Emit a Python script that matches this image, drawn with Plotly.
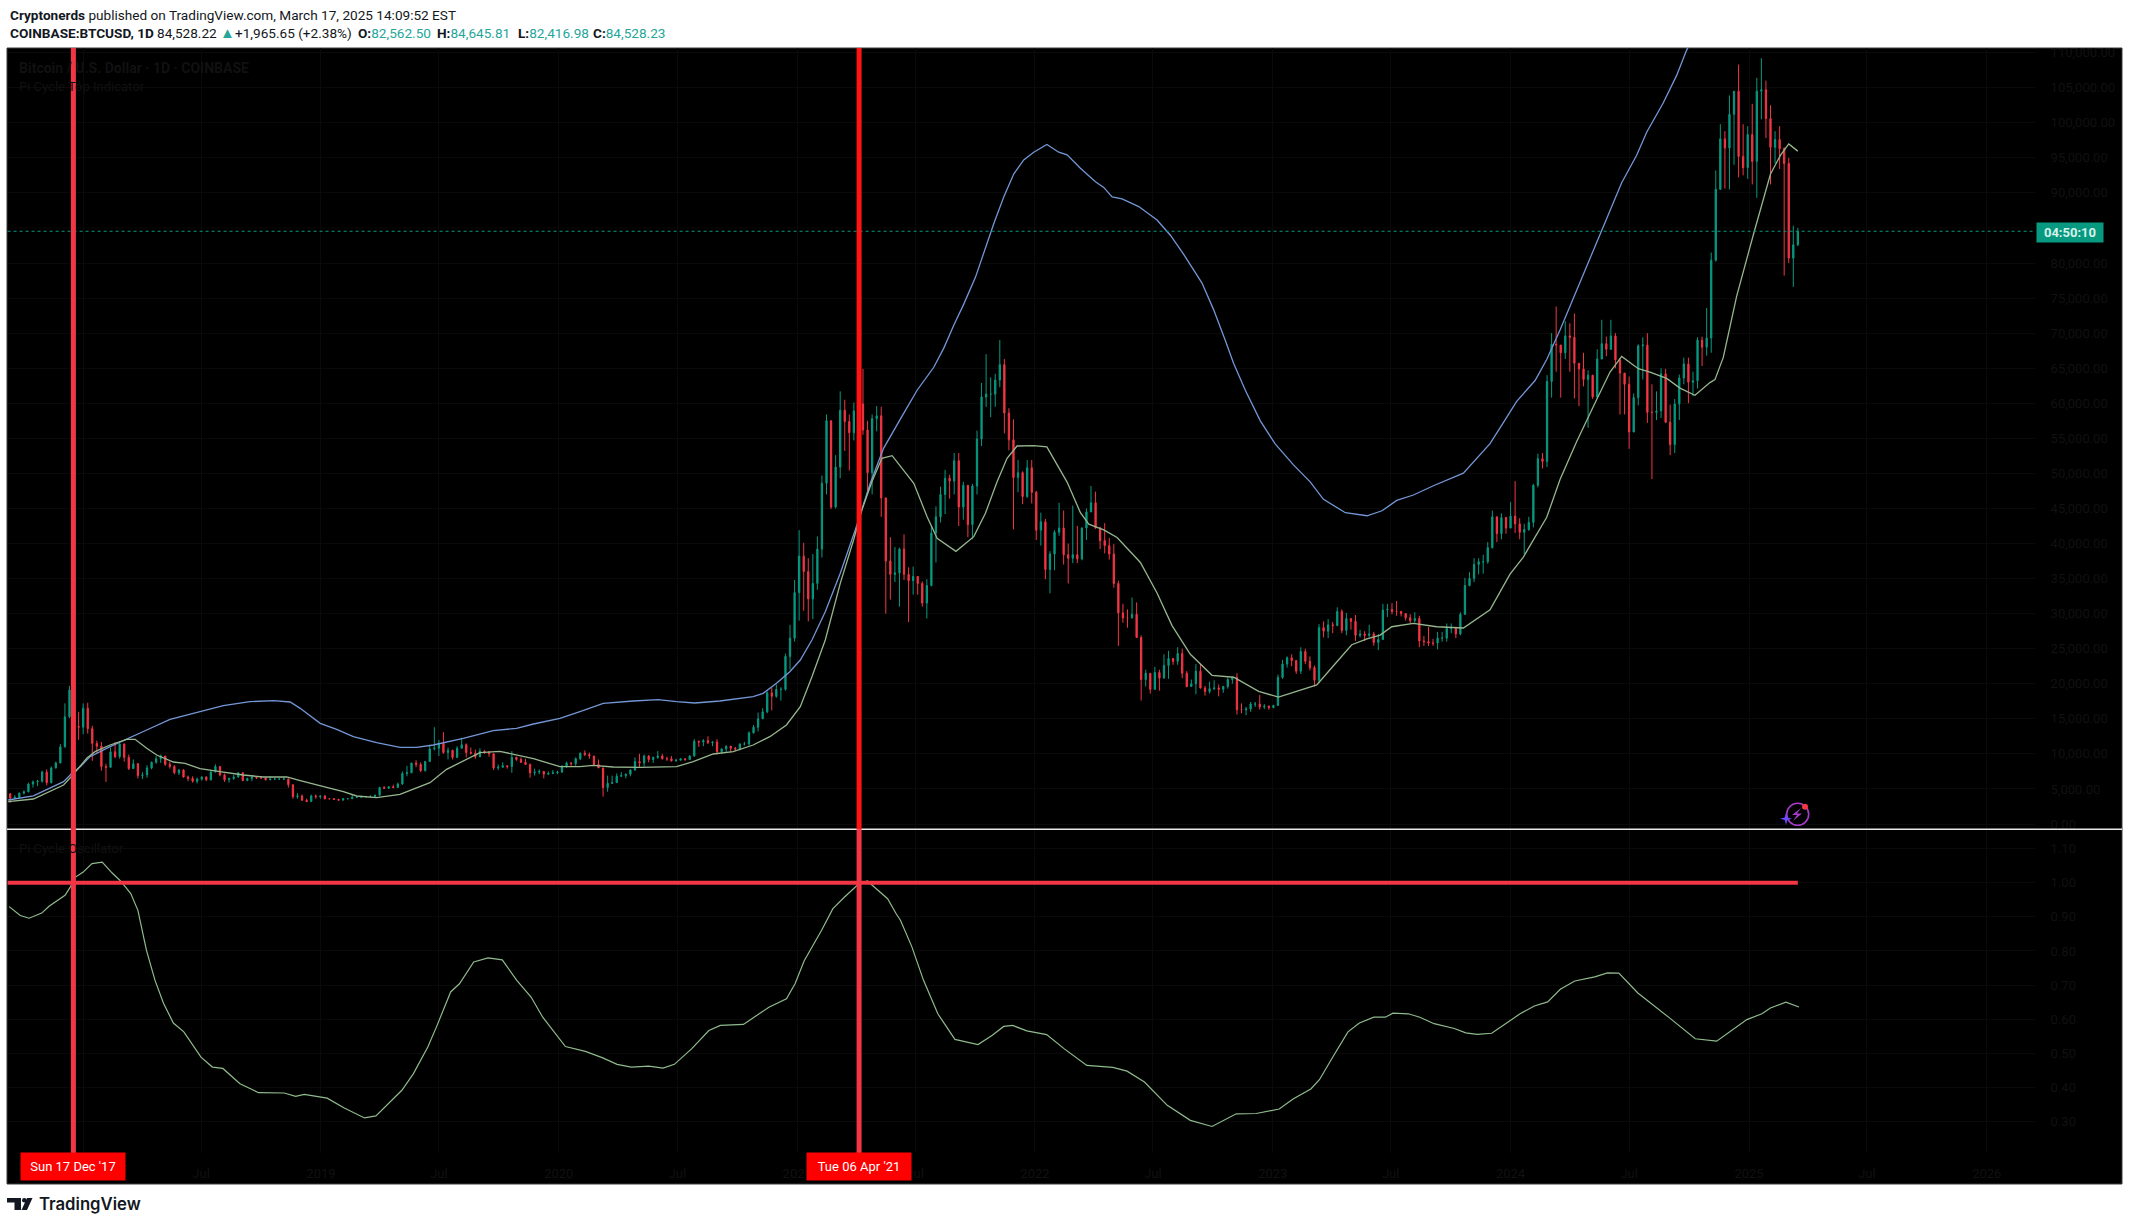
import pandas as pd
import plotly.graph_objects as go

W, H = 2129, 1225

# weekly candles in thousands of USD, one line per year, first week is 2017-09-04
first_week = "2017-09-04"
candle_open = [
    4.5, 4.3, 3.7, 3.8, 4.4, 4.6, 5.7, 6.0, 6.1, 7.4, 5.9, 8.0, 8.7, 11.0, 15.3, 19.1, 13.9,
    13.8, 16.5, 13.6, 11.5, 11.1, 8.2, 8.1, 10.3, 9.6, 11.4, 9.5, 7.9, 8.6, 6.9, 7.0, 8.0, 8.8, 9.3, 9.7, 8.5, 8.2, 7.3, 7.7, 6.7, 6.5, 6.1, 6.4, 6.7, 6.3, 7.4, 8.2, 7.0, 6.3, 6.5, 6.7, 7.3, 6.2, 6.5, 6.7, 6.6, 6.6, 6.3, 6.4, 6.4, 6.4, 6.4, 5.6, 3.9, 4.0, 3.4, 3.2, 4.0, 3.9,
    4.0, 3.6, 3.6, 3.5, 3.4, 3.6, 3.6, 3.8, 3.8, 3.9, 3.9, 3.9, 4.1, 5.2, 5.1, 5.3, 5.2, 5.7, 7.2, 7.3, 8.7, 8.5, 7.6, 8.9, 10.7, 10.8, 11.5, 10.2, 10.5, 9.5, 10.8, 11.3, 10.2, 10.1, 9.6, 10.4, 10.3, 10.0, 8.0, 8.1, 8.3, 8.2, 9.5, 9.2, 8.8, 8.5, 7.3, 7.4, 7.5, 7.1, 7.2, 7.3,
    7.4, 8.2, 8.7, 8.6, 9.3, 10.1, 9.9, 9.7, 8.5, 8.0, 5.2, 5.8, 5.9, 6.8, 6.9, 7.1, 7.7, 8.9, 8.7, 9.7, 9.2, 9.5, 9.7, 9.3, 9.3, 9.0, 9.1, 9.3, 9.2, 9.7, 11.8, 11.7, 11.9, 11.6, 11.7, 10.3, 10.7, 11.1, 10.8, 10.7, 11.4, 11.4, 13.0, 13.8, 15.0, 16.0, 18.7, 18.2, 19.2, 19.2, 23.9, 26.5,
    33.0, 38.2, 36.0, 32.1, 34.3, 39.2, 48.6, 57.5, 45.2, 50.9, 59.0, 57.4, 55.8, 58.9, 59.9, 56.2, 50.1, 57.8, 58.2, 46.5, 37.5, 35.6, 35.8, 39.2, 35.6, 34.7, 35.3, 34.3, 31.5, 34.0, 41.5, 43.8, 47.0, 49.3, 48.9, 51.8, 45.2, 48.3, 42.7, 48.2, 54.9, 60.9, 61.3, 61.3, 63.3, 65.5, 58.6, 54.8, 49.4, 50.1, 46.7, 50.8,
    47.3, 41.9, 43.1, 36.3, 38.5, 41.6, 42.2, 38.4, 37.9, 38.4, 37.8, 42.2, 44.5, 45.8, 42.2, 40.4, 39.7, 38.5, 34.3, 30.1, 29.4, 29.4, 29.9, 26.6, 20.6, 21.5, 19.2, 21.6, 20.8, 22.6, 23.6, 23.2, 24.3, 21.5, 19.6, 20.0, 21.8, 19.4, 18.9, 19.3, 19.4, 19.2, 19.6, 20.6, 20.9, 16.3, 16.3, 16.4, 17.1, 17.1, 16.7, 16.8,
    16.6, 16.9, 20.9, 22.8, 23.7, 23.3, 21.8, 24.6, 23.2, 22.3, 20.5, 28.0, 27.5, 28.4, 28.3, 30.3, 27.6, 29.3, 28.9, 26.9, 27.1, 26.9, 27.1, 25.9, 26.3, 30.5, 30.6, 30.3, 30.3, 30.0, 29.4, 29.0, 29.3, 26.1, 26.0, 25.8, 25.8, 26.5, 26.5, 27.9, 27.9, 27.1, 29.9, 34.0, 35.0, 37.0, 37.4, 37.4, 39.4, 43.8, 41.4, 43.7,
    42.2, 43.9, 42.8, 41.6, 42.0, 43.0, 48.3, 52.1, 51.7, 63.1, 68.4, 68.3, 67.2, 69.6, 69.4, 65.7, 64.9, 63.4, 64.0, 60.9, 66.3, 68.5, 67.7, 69.6, 66.2, 64.3, 62.7, 55.9, 60.8, 68.2, 68.3, 58.7, 58.7, 58.9, 64.2, 57.3, 54.1, 59.9, 63.6, 65.6, 63.0, 63.2, 69.0, 68.0, 69.3, 80.4, 90.5, 97.7, 96.4, 101.2, 104.5, 95.2, 93.6,
    98.3, 94.5, 104.5, 104.7, 100.6, 96.5, 97.6, 96.3, 94.2, 80.7, 82.6,
]
candle_high = [
    4.9, 4.4, 4.1, 4.5, 4.8, 5.9, 6.2, 6.3, 7.6, 7.8, 8.2, 8.9, 11.4, 17.2, 19.7, 19.0, 16.0,
    17.2, 17.3, 14.0, 11.9, 11.7, 8.6, 10.9, 11.7, 11.7, 11.5, 9.9, 9.2, 8.7, 7.4, 8.4, 8.9, 9.7, 9.9, 9.4, 8.9, 8.4, 7.8, 7.8, 6.9, 6.8, 6.6, 6.8, 6.8, 7.7, 8.5, 8.2, 7.2, 6.6, 7.0, 7.4, 7.4, 6.6, 6.8, 6.8, 6.7, 6.7, 6.8, 6.6, 6.5, 6.6, 6.5, 5.6, 4.4, 4.2, 3.6, 4.2, 4.2, 4.0,
    4.1, 3.7, 3.7, 3.6, 3.7, 3.7, 4.2, 3.9, 4.0, 4.0, 4.1, 4.2, 5.3, 5.4, 5.4, 5.6, 5.9, 7.5, 8.3, 8.7, 9.1, 8.8, 9.0, 11.2, 13.8, 12.0, 13.1, 10.9, 10.6, 11.1, 12.3, 11.5, 10.9, 10.6, 10.8, 10.5, 10.4, 10.1, 8.5, 8.8, 8.4, 10.4, 9.6, 9.5, 9.3, 8.6, 7.9, 7.8, 7.5, 7.5, 7.7, 7.6,
    8.4, 8.9, 8.8, 9.5, 10.2, 10.5, 10.2, 9.7, 9.2, 8.0, 6.9, 6.9, 7.2, 7.4, 7.2, 7.8, 9.5, 10.0, 9.9, 9.8, 9.6, 10.4, 10.0, 9.6, 9.7, 9.3, 9.4, 9.3, 9.8, 12.1, 11.9, 12.1, 12.5, 11.8, 12.1, 10.8, 11.2, 11.0, 11.0, 11.5, 11.7, 13.2, 14.1, 15.9, 16.5, 18.9, 19.4, 19.9, 19.5, 24.3, 28.4, 34.8,
    41.9, 40.1, 37.9, 38.5, 41.0, 49.7, 58.4, 52.0, 52.6, 61.7, 60.5, 58.4, 60.1, 61.2, 64.9, 57.5, 58.4, 59.6, 59.5, 45.8, 40.9, 39.5, 39.4, 41.3, 36.6, 36.7, 35.1, 34.6, 34.9, 42.6, 45.3, 48.1, 50.5, 49.8, 52.9, 52.9, 48.8, 44.9, 48.5, 56.1, 62.9, 67.0, 63.7, 64.2, 69.0, 66.3, 59.3, 57.7, 51.9, 50.3, 51.9, 51.9,
    47.5, 44.4, 43.5, 38.9, 41.9, 45.8, 44.7, 40.0, 45.4, 42.5, 42.3, 45.0, 48.2, 47.4, 42.4, 42.9, 40.8, 39.9, 34.7, 31.4, 30.6, 32.3, 31.6, 26.9, 22.0, 21.5, 22.4, 22.0, 24.2, 24.7, 23.5, 25.2, 25.0, 21.8, 20.6, 22.8, 22.8, 19.7, 20.3, 20.5, 19.9, 19.7, 20.9, 21.0, 21.5, 17.2, 16.7, 17.4, 17.4, 18.4, 17.1, 16.9,
    17.0, 21.3, 23.4, 23.9, 24.2, 23.4, 25.2, 25.0, 23.9, 22.6, 28.5, 28.9, 29.2, 28.8, 30.9, 30.6, 30.1, 29.3, 29.8, 27.7, 27.5, 28.4, 27.4, 27.1, 31.4, 31.4, 31.5, 31.8, 30.4, 29.9, 29.9, 30.2, 29.7, 26.8, 28.1, 26.4, 27.4, 27.4, 28.6, 28.6, 28.0, 30.2, 35.1, 35.9, 37.9, 37.9, 38.4, 40.2, 44.7, 43.4, 44.3, 43.8,
    45.9, 48.9, 43.6, 42.8, 43.8, 48.5, 52.8, 52.9, 64.0, 70.0, 73.8, 68.2, 71.7, 71.4, 72.8, 65.3, 67.2, 64.7, 63.4, 67.7, 71.9, 69.5, 71.9, 70.0, 66.4, 63.4, 63.8, 61.4, 68.4, 69.4, 70.0, 62.7, 61.7, 65.0, 64.9, 59.8, 60.6, 64.1, 66.5, 66.5, 64.5, 69.4, 69.5, 73.6, 81.5, 93.2, 99.8, 98.8, 103.9, 104.5, 108.3, 99.8, 99.5,
    102.7, 106.4, 109.2, 106.0, 102.5, 98.8, 99.5, 96.5, 95.0, 85.3, 85.0,
]
candle_low = [
    4.2, 3.0, 3.6, 3.7, 4.2, 4.5, 5.2, 5.4, 5.9, 5.5, 5.8, 7.9, 8.7, 10.9, 15.1, 12.5, 12.0,
    12.8, 12.9, 9.0, 10.0, 7.6, 6.0, 8.0, 9.4, 9.3, 8.9, 7.7, 8.3, 6.5, 6.4, 6.6, 7.8, 8.6, 8.7, 8.3, 7.9, 7.1, 7.0, 6.6, 6.1, 5.9, 5.8, 6.2, 6.1, 6.2, 7.4, 6.8, 6.0, 5.9, 6.3, 6.6, 6.1, 6.1, 6.1, 6.4, 6.4, 6.2, 6.3, 6.3, 6.3, 6.3, 5.2, 3.6, 3.6, 3.3, 3.1, 3.2, 3.6, 3.6,
    3.5, 3.5, 3.5, 3.3, 3.4, 3.6, 3.6, 3.7, 3.7, 3.8, 3.8, 3.9, 4.1, 5.0, 5.0, 5.1, 5.2, 5.6, 6.8, 7.3, 8.1, 7.4, 7.5, 8.9, 10.5, 9.7, 10.0, 9.2, 9.2, 9.4, 10.8, 9.5, 9.9, 9.3, 9.5, 10.0, 9.6, 7.7, 7.7, 8.0, 7.9, 7.3, 9.0, 8.7, 8.4, 6.6, 6.9, 7.1, 6.5, 7.0, 7.1, 7.1,
    7.3, 8.0, 8.3, 8.3, 9.1, 9.7, 9.3, 8.4, 8.0, 3.9, 4.6, 5.7, 5.9, 6.7, 6.5, 6.8, 7.6, 8.1, 8.2, 8.8, 8.7, 9.3, 9.2, 9.0, 8.9, 8.9, 9.1, 9.0, 9.2, 9.6, 11.0, 11.1, 11.4, 11.1, 9.9, 10.0, 10.2, 10.2, 10.4, 10.5, 11.2, 11.2, 12.9, 13.2, 15.0, 15.8, 16.2, 18.0, 17.6, 19.0, 22.0, 26.0,
    29.0, 30.4, 28.9, 29.2, 33.4, 38.0, 47.0, 44.9, 45.0, 49.3, 53.2, 50.4, 54.7, 55.5, 55.5, 47.5, 47.0, 56.0, 43.8, 30.0, 32.0, 34.5, 31.0, 34.8, 28.8, 32.7, 32.7, 31.0, 29.3, 33.9, 37.3, 43.0, 44.2, 46.4, 47.0, 42.5, 43.4, 40.9, 40.6, 47.0, 53.9, 59.5, 58.0, 59.5, 62.3, 55.7, 53.3, 42.0, 47.3, 45.6, 46.5, 45.7,
    40.5, 39.7, 34.9, 32.9, 36.2, 41.1, 37.0, 34.3, 37.2, 37.2, 37.6, 40.5, 45.2, 42.1, 39.2, 38.6, 37.7, 33.7, 25.4, 28.7, 28.0, 29.3, 26.6, 17.6, 19.6, 18.6, 19.3, 19.0, 20.8, 20.7, 22.7, 22.7, 20.8, 19.5, 19.6, 18.5, 19.3, 18.3, 18.6, 19.1, 18.2, 18.7, 19.3, 20.0, 15.6, 15.8, 15.5, 16.0, 16.7, 16.3, 16.4, 16.3,
    16.5, 16.9, 20.7, 22.3, 22.5, 21.4, 21.4, 22.8, 21.9, 19.6, 20.1, 26.6, 26.5, 27.2, 28.2, 27.2, 26.9, 27.7, 26.1, 26.6, 26.1, 26.6, 25.4, 24.8, 26.3, 29.5, 29.9, 29.7, 29.6, 29.0, 28.6, 28.7, 25.2, 25.4, 25.4, 25.4, 24.9, 26.0, 26.0, 27.2, 26.5, 26.9, 29.8, 33.9, 34.5, 35.6, 35.7, 37.1, 39.3, 40.2, 40.6, 41.4,
    42.6, 41.5, 40.6, 38.5, 41.8, 42.3, 48.0, 50.7, 50.9, 60.8, 64.5, 60.8, 66.3, 64.5, 60.7, 59.6, 62.4, 56.5, 60.6, 60.8, 66.4, 66.7, 67.6, 65.0, 58.4, 58.4, 53.5, 56.5, 59.7, 63.4, 57.2, 49.2, 57.6, 57.9, 57.2, 52.6, 52.9, 57.6, 62.7, 60.0, 61.0, 62.1, 65.3, 66.8, 67.2, 80.2, 90.8, 90.6, 90.5, 94.0, 92.2, 92.5, 92.0,
    91.2, 89.3, 100.5, 97.8, 91.2, 94.2, 93.4, 78.2, 80.0, 76.6, 82.4,
]
candle_close = [
    4.3, 3.7, 3.8, 4.4, 4.6, 5.7, 6.0, 6.1, 7.4, 5.9, 8.0, 8.7, 11.0, 15.3, 19.1, 13.9, 13.8,
    16.5, 13.6, 11.5, 11.1, 8.2, 8.1, 10.3, 9.6, 11.4, 9.5, 7.9, 8.6, 6.9, 7.0, 8.0, 8.8, 9.3, 9.7, 8.5, 8.2, 7.3, 7.7, 6.7, 6.5, 6.1, 6.4, 6.7, 6.3, 7.4, 8.2, 7.0, 6.3, 6.5, 6.7, 7.3, 6.2, 6.5, 6.7, 6.6, 6.6, 6.3, 6.4, 6.4, 6.4, 6.4, 5.6, 3.9, 4.0, 3.4, 3.2, 4.0, 3.9, 4.0,
    3.6, 3.6, 3.5, 3.4, 3.6, 3.6, 3.8, 3.8, 3.9, 3.9, 3.9, 4.1, 5.2, 5.1, 5.3, 5.2, 5.7, 7.2, 7.3, 8.7, 8.5, 7.6, 8.9, 10.7, 10.8, 11.5, 10.2, 10.5, 9.5, 10.8, 11.3, 10.2, 10.1, 9.6, 10.4, 10.3, 10.0, 8.0, 8.1, 8.3, 8.2, 9.5, 9.2, 8.8, 8.5, 7.3, 7.4, 7.5, 7.1, 7.2, 7.3, 7.4,
    8.2, 8.7, 8.6, 9.3, 10.1, 9.9, 9.7, 8.5, 8.0, 5.2, 5.8, 5.9, 6.8, 6.9, 7.1, 7.7, 8.9, 8.7, 9.7, 9.2, 9.5, 9.7, 9.3, 9.3, 9.0, 9.1, 9.3, 9.2, 9.7, 11.8, 11.7, 11.9, 11.6, 11.7, 10.3, 10.7, 11.1, 10.8, 10.7, 11.4, 11.4, 13.0, 13.8, 15.0, 16.0, 18.7, 18.2, 19.2, 19.2, 23.9, 26.5, 33.0,
    38.2, 36.0, 32.1, 34.3, 39.2, 48.6, 57.5, 45.2, 50.9, 59.0, 57.4, 55.8, 58.9, 59.9, 56.2, 50.1, 57.8, 58.2, 46.5, 37.5, 35.6, 35.8, 39.2, 35.6, 34.7, 35.3, 34.3, 31.5, 34.0, 41.5, 43.8, 47.0, 49.3, 48.9, 51.8, 45.2, 48.3, 42.7, 48.2, 54.9, 60.9, 61.3, 61.3, 63.3, 65.5, 58.6, 54.8, 49.4, 50.1, 46.7, 50.8, 47.3,
    41.9, 43.1, 36.3, 38.5, 41.6, 42.2, 38.4, 37.9, 38.4, 37.8, 42.2, 44.5, 45.8, 42.2, 40.4, 39.7, 38.5, 34.3, 30.1, 29.4, 29.4, 29.9, 26.6, 20.6, 21.5, 19.2, 21.6, 20.8, 22.6, 23.6, 23.2, 24.3, 21.5, 19.6, 20.0, 21.8, 19.4, 18.9, 19.3, 19.4, 19.2, 19.6, 20.6, 20.9, 16.3, 16.3, 16.4, 17.1, 17.1, 16.7, 16.8, 16.6,
    16.9, 20.9, 22.8, 23.7, 23.3, 21.8, 24.6, 23.2, 22.3, 20.5, 28.0, 27.5, 28.4, 28.3, 30.3, 27.6, 29.3, 28.9, 26.9, 27.1, 26.9, 27.1, 25.9, 26.3, 30.5, 30.6, 30.3, 30.3, 30.0, 29.4, 29.0, 29.3, 26.1, 26.0, 25.8, 25.8, 26.5, 26.5, 27.9, 27.9, 27.1, 29.9, 34.0, 35.0, 37.0, 37.4, 37.4, 39.4, 43.8, 41.4, 43.7, 42.2,
    43.9, 42.8, 41.6, 42.0, 43.0, 48.3, 52.1, 51.7, 63.1, 68.4, 68.3, 67.2, 69.6, 69.4, 65.7, 64.9, 63.4, 64.0, 60.9, 66.3, 68.5, 67.7, 69.6, 66.2, 64.3, 62.7, 55.9, 60.8, 68.2, 68.3, 58.7, 58.7, 58.9, 64.2, 57.3, 54.1, 59.9, 63.6, 65.6, 63.0, 63.2, 69.0, 68.0, 69.3, 80.4, 90.5, 97.7, 96.4, 101.2, 104.5, 95.2, 93.6, 98.3,
    94.5, 104.5, 104.7, 100.6, 96.5, 97.6, 96.3, 94.2, 80.7, 82.6, 84.5,
]

# pi cycle long moving average, decimal years and USD
blue_years = [
    2017.684, 2017.79, 2017.917, 2017.952, 2017.987, 2018.029, 2018.113, 2018.183, 2018.267, 2018.365, 2018.491, 2018.589,
    2018.701, 2018.8, 2018.87, 2018.912, 2018.996, 2019.066, 2019.136, 2019.234, 2019.332, 2019.402, 2019.472, 2019.598,
    2019.724, 2019.822, 2019.893, 2020.005, 2020.089, 2020.187, 2020.313, 2020.418, 2020.495, 2020.572, 2020.677, 2020.817,
    2020.859, 2020.915, 2020.971, 2021.013, 2021.062, 2021.118, 2021.181, 2021.244, 2021.307, 2021.363, 2021.434, 2021.504,
    2021.574, 2021.616, 2021.658, 2021.7, 2021.749, 2021.784, 2021.826, 2021.868, 2021.91, 2021.952, 2021.994, 2022.05,
    2022.1, 2022.135, 2022.191, 2022.254, 2022.289, 2022.324, 2022.366, 2022.436, 2022.513, 2022.569, 2022.625, 2022.702,
    2022.751, 2022.8, 2022.835, 2022.884, 2022.947, 2023.01, 2023.087, 2023.158, 2023.213, 2023.305, 2023.396, 2023.459,
    2023.521, 2023.591, 2023.675, 2023.801, 2023.857, 2023.913, 2023.969, 2024.025, 2024.103, 2024.152, 2024.208, 2024.278,
    2024.362, 2024.418, 2024.467, 2024.53, 2024.572, 2024.642, 2024.698, 2024.74, 2024.78,
]
blue_values = [
    3423, 4000, 6035, 7226, 8176, 9602, 11028, 12074, 13405, 14926, 16019, 16875,
    17445, 17587, 17398, 16494, 14355, 13500, 12454, 11599, 10933, 10933, 11266, 12217,
    13310, 13643, 14260, 15069, 16019, 17207, 17540, 17730, 17445, 17255, 17540, 18158,
    18633, 20059, 21723, 23386, 26241, 30280, 35747, 41926, 48580, 53570, 57763, 61856,
    65130, 67860, 71134, 74135, 77954, 81496, 85590, 89414, 92687, 94707, 95799, 96890,
    95799, 95417, 93507, 91597, 90779, 89414, 89142, 88050, 86140, 83957, 81229, 77136,
    73316, 68950, 65676, 61856, 57490, 54216, 51212, 48760, 46303, 44394, 43957, 44666,
    46137, 46917, 48237, 50038, 52139, 54239, 57240, 60241, 63242, 66243, 70445, 76146,
    82749, 87550, 91452, 95357, 98654, 102856, 106757, 110358, 113000,
]

# pi cycle short moving average
green_years = [
    2017.684, 2017.79, 2017.917, 2017.952, 2018.015, 2018.05, 2018.113, 2018.183, 2018.218, 2018.267, 2018.309, 2018.379,
    2018.428, 2018.491, 2018.575, 2018.673, 2018.758, 2018.856, 2018.912, 2018.996, 2019.094, 2019.15, 2019.234, 2019.332,
    2019.458, 2019.528, 2019.612, 2019.668, 2019.752, 2019.836, 2019.893, 2020.005, 2020.089, 2020.145, 2020.229, 2020.341,
    2020.495, 2020.565, 2020.649, 2020.733, 2020.817, 2020.887, 2020.957, 2021.013, 2021.062, 2021.118, 2021.181, 2021.237,
    2021.272, 2021.314, 2021.356, 2021.399, 2021.447, 2021.49, 2021.546, 2021.588, 2021.667, 2021.742, 2021.791, 2021.84,
    2021.882, 2021.924, 2021.994, 2022.05, 2022.135, 2022.191, 2022.226, 2022.289, 2022.345, 2022.443, 2022.513, 2022.576,
    2022.653, 2022.744, 2022.835, 2022.94, 2023.024, 2023.115, 2023.185, 2023.255, 2023.332, 2023.396, 2023.451, 2023.5,
    2023.591, 2023.689, 2023.801, 2023.913, 2023.997, 2024.053, 2024.152, 2024.208, 2024.278, 2024.362, 2024.418, 2024.467,
    2024.537, 2024.586, 2024.656, 2024.712, 2024.775, 2024.838, 2024.859, 2024.894, 2024.95, 2025.02, 2025.09, 2025.132,
    2025.167, 2025.205,
]
green_values = [
    3186, 3566, 5562, 6846, 9365, 10315, 11266, 12074, 12074, 10791, 9840, 8842,
    8652, 7891, 7464, 6988, 6703, 6703, 6180, 5467, 4612, 3994, 3756, 4232,
    5895, 7797, 9222, 10173, 10363, 9745, 9318, 8177, 8177, 8367, 8129, 8082,
    8177, 8890, 9983, 10316, 11266, 12454, 14118, 16732, 21010, 26241, 34321, 40500,
    44778, 48818, 52145, 52526, 50481, 48580, 43827, 40738, 38883, 40975, 44302, 48818,
    52145, 53904, 53951, 53780, 48762, 44394, 42757, 41938, 40847, 37299, 32934, 28296,
    24203, 21202, 20929, 18910, 18091, 19019, 19836, 22567, 25565, 26385, 26930, 28130,
    28611, 28130, 27951, 30531, 35633, 38034, 43736, 49138, 54539, 60541, 64443, 66673,
    64922, 64443, 63542, 62162, 61142, 62942, 63362, 66543, 75246, 84249, 92652, 95353,
    96973, 95953,
]

# oscillator pane
osc_years = [
    2017.688, 2017.735, 2017.772, 2017.825, 2017.856, 2017.923, 2017.945, 2017.964, 2018.0, 2018.037, 2018.08, 2018.121,
    2018.157, 2018.2, 2018.23, 2018.266, 2018.302, 2018.338, 2018.379, 2018.423, 2018.495, 2018.543, 2018.587, 2018.659,
    2018.737, 2018.845, 2018.893, 2018.929, 2019.026, 2019.098, 2019.183, 2019.231, 2019.34, 2019.388, 2019.449, 2019.485,
    2019.545, 2019.582, 2019.642, 2019.702, 2019.762, 2019.823, 2019.883, 2019.932, 2020.028, 2020.112, 2020.185, 2020.245,
    2020.305, 2020.378, 2020.438, 2020.486, 2020.559, 2020.631, 2020.679, 2020.776, 2020.885, 2020.957, 2020.993, 2021.03,
    2021.102, 2021.15, 2021.199, 2021.259, 2021.295, 2021.332, 2021.38, 2021.416, 2021.434, 2021.482, 2021.531, 2021.591,
    2021.663, 2021.76, 2021.82, 2021.868, 2021.905, 2021.965, 2022.049, 2022.122, 2022.218, 2022.327, 2022.387, 2022.46,
    2022.556, 2022.653, 2022.744, 2022.846, 2022.93, 2023.027, 2023.087, 2023.16, 2023.196, 2023.256, 2023.316, 2023.364,
    2023.425, 2023.473, 2023.505, 2023.57, 2023.618, 2023.678, 2023.763, 2023.811, 2023.859, 2023.92, 2023.98, 2024.04,
    2024.1, 2024.156, 2024.209, 2024.27, 2024.354, 2024.407, 2024.455, 2024.535, 2024.668, 2024.776, 2024.866, 2024.993,
    2025.054, 2025.09, 2025.155, 2025.21,
]
osc_values = [
    0.930, 0.904, 0.896, 0.911, 0.931, 0.963, 0.987, 1.015, 1.031, 1.056, 1.060, 1.029,
    1.005, 0.968, 0.919, 0.802, 0.714, 0.646, 0.589, 0.563, 0.489, 0.460, 0.456, 0.411,
    0.385, 0.384, 0.374, 0.380, 0.369, 0.340, 0.311, 0.317, 0.392, 0.440, 0.519, 0.577,
    0.680, 0.704, 0.768, 0.780, 0.774, 0.714, 0.665, 0.606, 0.520, 0.506, 0.487, 0.468,
    0.460, 0.463, 0.457, 0.468, 0.514, 0.567, 0.582, 0.585, 0.636, 0.660, 0.704, 0.772,
    0.860, 0.924, 0.958, 0.997, 1.005, 0.982, 0.953, 0.909, 0.890, 0.812, 0.714, 0.616,
    0.541, 0.526, 0.553, 0.579, 0.582, 0.566, 0.555, 0.514, 0.465, 0.459, 0.448, 0.416,
    0.348, 0.304, 0.286, 0.323, 0.324, 0.337, 0.367, 0.396, 0.423, 0.494, 0.563, 0.589,
    0.606, 0.606, 0.618, 0.616, 0.606, 0.587, 0.573, 0.560, 0.556, 0.559, 0.587, 0.616,
    0.639, 0.651, 0.688, 0.712, 0.724, 0.736, 0.735, 0.677, 0.604, 0.543, 0.536, 0.599,
    0.616, 0.633, 0.650, 0.636,
]

# 2018 and 85,000 sit under the red date box and the countdown box in the picture
x_tick_dates = ["2018-01-01", "2018-07-01", "2019-01-01", "2019-07-01", "2020-01-01", "2020-07-01", "2021-01-01", "2021-07-01",
                "2022-01-01", "2022-07-01", "2023-01-01", "2023-07-01", "2024-01-01", "2024-07-01", "2025-01-01", "2025-07-01", "2026-01-01"]
x_tick_labels = ["", "Jul", "2019", "Jul", "2020", "Jul", "2021", "Jul", "2022", "Jul", "2023", "Jul", "2024", "Jul", "2025", "Jul", "2026"]
price_ticks = [0, 5000, 10000, 15000, 20000, 25000, 30000, 35000, 40000, 45000, 50000, 55000, 60000, 65000, 70000, 75000, 80000,
               90000, 95000, 100000, 105000, 110000]
price_grid = [85000]

last_price = 84528
signal_dates = ["2017-12-17", "2021-04-06"]
signal_labels = ["Sun 17 Dec '17", "Tue 06 Apr '21"]
osc_level = 1.0
osc_level_end = "2025-03-17"

UP = "#089981"
DOWN = "#f23645"
FAINT = "#111111"
GRID = "#0a0a0a"
TEXT = "#131722"
TEAL = "#26a69a"


def to_dates(years):
    return [pd.Timestamp(int(y), 1, 1) + pd.Timedelta(days=(y % 1) * 365.25) for y in years]


def px(x):
    return x / W


def py(y):
    return 1 - y / H


def poly(points, color):
    path = "M " + " L ".join(f"{px(x):.5f},{py(y):.5f}" for x, y in points) + " Z"
    return dict(type="path", xref="paper", yref="paper", path=path, fillcolor=color, line_width=0)


def paper_circle(cx, cy, r, fill=None, line=None, lw=0):
    return dict(type="circle", xref="paper", yref="paper", x0=px(cx - r), x1=px(cx + r), y0=py(cy + r), y1=py(cy - r),
                fillcolor=fill or "rgba(0,0,0,0)", line=dict(color=line or "rgba(0,0,0,0)", width=lw))


def paper_note(x, y, text, size, color=TEXT, family="Roboto", **kw):
    return dict(xref="paper", yref="paper", x=px(x), y=py(y), text=text, showarrow=False, xanchor=kw.pop("xanchor", "left"),
                yanchor="middle", font=dict(family=family, size=size, color=color), **kw)


weeks = pd.date_range(first_week, periods=len(candle_close), freq="7D")
assert len(candle_open) == len(candle_high) == len(candle_low) == len(candle_close)

fig = go.Figure()
fig.add_trace(go.Scatter(x=to_dates(blue_years), y=blue_values, mode="lines", line=dict(color="#7397d6", width=1.3), name="Long MA"))
fig.add_trace(go.Candlestick(
    x=weeks,
    open=[v * 1000 for v in candle_open],
    high=[v * 1000 for v in candle_high],
    low=[v * 1000 for v in candle_low],
    close=[v * 1000 for v in candle_close],
    increasing=dict(line=dict(color=UP, width=1), fillcolor=UP),
    decreasing=dict(line=dict(color=DOWN, width=1), fillcolor=DOWN),
    whiskerwidth=0,
    name="BTCUSD",
))
fig.add_trace(go.Scatter(x=to_dates(green_years), y=green_values, mode="lines", line=dict(color="#96b78e", width=1.3), name="Short MA"))
fig.add_trace(go.Scatter(x=to_dates(osc_years), y=osc_values, mode="lines", line=dict(color="#8fbb8c", width=1.2), name="Oscillator", xaxis="x2", yaxis="y2"))

plot_left, plot_right = 7.6, 2035
top_axis = dict(family="Roboto", size=13, color=FAINT)

shapes = [
    dict(type="rect", xref="paper", yref="paper", x0=px(7), x1=px(2122), y0=py(1184), y1=py(48), fillcolor="#000000",
         line=dict(color="#3c3c3c", width=1), layer="below"),
    dict(type="line", xref="paper", yref="paper", x0=px(7), x1=px(2122), y0=py(829.3), y1=py(829.3), line=dict(color="#e8e8e8", width=1.5)),
    dict(type="line", xref="paper", yref="y", x0=px(plot_left), x1=px(plot_right), y0=price_grid[0], y1=price_grid[0], line=dict(color=GRID, width=1), layer="below"),
    dict(type="line", xref="paper", yref="y", x0=px(plot_left), x1=px(plot_right), y0=last_price, y1=last_price, line=dict(color=UP, width=1, dash="dot")),
    dict(type="line", xref="x2", yref="y2", x0=signal_dates[0], x1=osc_level_end, y0=osc_level, y1=osc_level, line=dict(color=DOWN, width=4)),
    dict(type="line", xref="x", yref="paper", x0=signal_dates[0], x1=signal_dates[0], y0=py(1153), y1=py(48), line=dict(color=DOWN, width=5)),
    dict(type="line", xref="x", yref="paper", x0=signal_dates[1], x1=signal_dates[1], y0=py(1153), y1=py(829.3), line=dict(color=DOWN, width=5)),
    dict(type="line", xref="x", yref="paper", x0=signal_dates[1], x1=signal_dates[1], y0=py(829.3), y1=py(48), line=dict(color="#ff1414", width=5)),
    # the pi cycle line runs back to the pane edge
    dict(type="line", xref="paper", yref="y2", x0=px(plot_left), x1=px(75), y0=osc_level, y1=osc_level, line=dict(color=DOWN, width=4)),
    # bolt badge
    paper_circle(1797.7, 814.3, 11, line="#a63bc9", lw=1.6),
    poly([(1801, 808), (1792, 815), (1797, 815), (1793, 821), (1802, 813.5), (1797, 813.5)], "#a63bc9"),
    paper_circle(1805, 806.7, 3, fill="#f23645"),
    poly([(1786, 812.5), (1787.3, 817.4), (1792, 818.7), (1787.3, 820), (1786, 825), (1784.7, 820), (1780, 818.7), (1784.7, 817.4)], "#6a4bff"),
    # logo mark
    poly([(7, 1198), (21, 1198), (21, 1210), (14.5, 1210), (14.5, 1202.5), (7, 1202.5)], TEXT),
    paper_circle(24.3, 1200.3, 2.3, fill=TEXT),
    poly([(27, 1198), (32.5, 1198), (27, 1210), (21.5, 1210)], TEXT),
]

annotations = [
    paper_note(8, 14.7, "<b>Cryptonerds</b> published on TradingView.com, March 17, 2025 14:09:52 EST", 13.6),
    paper_note(8, 33, "<b>COINBASE:BTCUSD, 1D</b>", 13.6),
    paper_note(155, 33, "84,528.22", 13.6),
    paper_note(218, 33, "▲", 15, color=TEAL),
    paper_note(233, 33, "+1,965.65 (+2.38%)", 13.6),
    paper_note(356, 33, f"<b>O:</b><span style='color:{TEAL}'>82,562.50</span>", 13.6),
    paper_note(435, 33, f"<b>H:</b><span style='color:{TEAL}'>84,645.81</span>", 13.6),
    paper_note(516, 33, f"<b>L:</b><span style='color:{TEAL}'>82,416.98</span>", 13.6),
    paper_note(591, 33, f"<b>C:</b><span style='color:{TEAL}'>84,528.23</span>", 13.6),
    paper_note(17, 67.7, "<b>Bitcoin / U.S. Dollar · 1D · COINBASE</b>", 14, color=FAINT),
    paper_note(17, 86.7, "Pi Cycle Top Indicator", 13, color=FAINT),
    paper_note(17, 848, "Pi Cycle Oscillator", 13, color=FAINT),
    paper_note(2070, 232.7, "<b>04:50:10</b>", 13, color="#d5f2ea", xanchor="center", bgcolor=UP, width=64, height=17),
    paper_note(36.5, 1204, "TradingView", 16.7, family="Inter"),
]
annotations[-1]["font"]["weight"] = 600
for date, label in zip(signal_dates, signal_labels):
    annotations.append(dict(xref="x2", yref="paper", x=date, y=py(1166.5), text=label, showarrow=False, xanchor="center", yanchor="middle",
                            width=102, height=25, bgcolor="#ff0000", font=dict(family="Roboto", size=13, color="#ffffff")))

fig.update_layout(
    width=W,
    height=H,
    autosize=False,
    margin=dict(l=0, r=0, t=0, b=0),
    paper_bgcolor="#ffffff",
    plot_bgcolor="#000000",
    showlegend=False,
    hovermode=False,
    boxgap=0.6,
    shapes=shapes,
    annotations=annotations,
    xaxis=dict(domain=[px(plot_left), px(plot_right)], anchor="y", type="date", range=["2017-09-07", "2026-03-16"], tickvals=x_tick_dates,
               showticklabels=False, showgrid=True, gridcolor=GRID, gridwidth=1, zeroline=False, rangeslider=dict(visible=False), matches="x2", automargin=False),
    yaxis=dict(domain=[py(829.3), py(48)], anchor="x", side="right", range=[-756, 110660], tickmode="array", tickvals=price_ticks, tickformat=",.2f",
               ticks="outside", ticklen=12, tickcolor="rgba(0,0,0,0)", tickfont=top_axis, showgrid=True, gridcolor=GRID, gridwidth=1, zeroline=False, automargin=False),
    xaxis2=dict(domain=[px(plot_left), px(plot_right)], anchor="y2", type="date", range=["2017-09-07", "2026-03-16"], tickmode="array",
                tickvals=x_tick_dates, ticktext=x_tick_labels, ticks="outside", ticklen=8, tickcolor="rgba(0,0,0,0)", tickfont=top_axis,
                showgrid=True, gridcolor=GRID, gridwidth=1, zeroline=False, automargin=False),
    yaxis2=dict(domain=[py(1153), py(829.3)], anchor="x2", side="right", range=[0.2083, 1.1564], tick0=0, dtick=0.1, tickformat=".2f",
                ticks="outside", ticklen=12, tickcolor="rgba(0,0,0,0)", tickfont=top_axis, showgrid=True, gridcolor=GRID, gridwidth=1, zeroline=False, automargin=False),
)

fig.write_html("out.html", config=dict(displayModeBar=False), post_script="document.body.style.margin='0';document.body.style.overflow='hidden';")
